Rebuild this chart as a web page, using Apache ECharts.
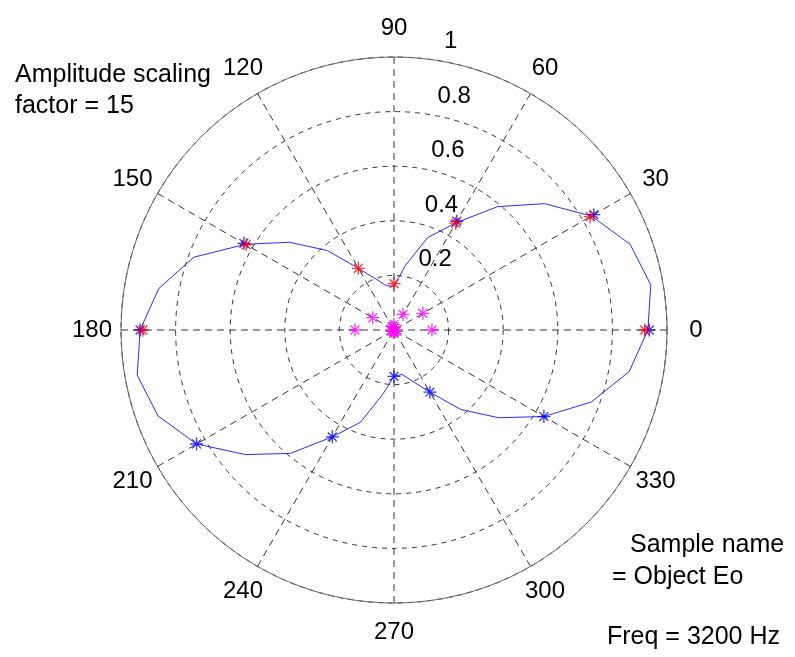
<!DOCTYPE html>
<html style="height: 100%">
<head>
<meta charset="utf-8">
<script type="text/javascript" src="https://cdn.jsdelivr.net/npm/echarts@6/dist/echarts.min.js"></script>
</head>
<body style="height: 100%; margin: 0; background: #fff">
<div id="container" style="width: 795px; height: 657px"></div>
<script type="text/javascript">
var dom = document.getElementById("container");
var myChart = echarts.init(dom);

// probe angles (deg) and normalised amplitudes
var probeAngles = [0, 30, 60, 90, 120, 150, 180, 210, 240, 270, 300, 330];
var blueAngles = [0, 30, 60, 150, 180, 210, 240, 270, 300, 330];
var blueProbe = [0.935, 0.845, 0.46, 0.635, 0.93, 0.835, 0.452, 0.17, 0.263, 0.634];
var redAngles = [0, 30, 60, 90, 120, 150, 180];
var redProbe = [0.918, 0.83, 0.452, 0.17, 0.261, 0.625, 0.92];
var magentaProbe = [0.139, 0.122, 0.066, 0.02, 0.015, 0.09, 0.143, 0.01, 0.006, 0.005, 0.006, 0.01];

// the fitted pattern, every 10 deg
var curveAngles = [0, 10, 20, 30, 40, 50, 60, 70, 80, 90, 100, 110, 120, 130, 140, 150, 160, 170, 180,
    190, 200, 210, 220, 230, 240, 250, 260, 270, 280, 290, 300, 310, 320, 330, 340, 350, 360];
var curveR = [0.93, 0.955, 0.92, 0.835, 0.72, 0.59, 0.453, 0.36, 0.24, 0.16, 0.165, 0.2, 0.261, 0.38, 0.5, 0.628, 0.78, 0.875, 0.93,
    0.955, 0.92, 0.835, 0.71, 0.59, 0.452, 0.36, 0.24, 0.17, 0.165, 0.2, 0.263, 0.38, 0.5, 0.634, 0.77, 0.875, 0.93];

// tick labels
var angleTicks = [0, 30, 60, 90, 120, 150, 180, 210, 240, 270, 300, 330];
var radiusTicks = [0.2, 0.4, 0.6, 0.8, 1];

var zip = function(r, a) {
    var res = [];
    for (var i = 0; i < r.length; i++) {
        res.push([r[i], a[i]]);
    }
    return res;
};

var star = 'path://M0,5L10,5M5,0L5,10M1.6,1.6L8.4,8.4M1.6,8.4L8.4,1.6';
var font = 'Liberation Sans';
var noteFont = '25px "Liberation Sans"';

var starSeries = function(name, data, color, z) {
    return {
        name: name,
        type: 'scatter',
        coordinateSystem: 'polar',
        polarIndex: 0,
        data: data,
        symbol: star,
        symbolSize: 13,
        itemStyle: {
            color: 'rgba(0,0,0,0)',
            borderColor: color,
            borderWidth: 1.3
        },
        z: z
    };
};

var hiddenAngle = function(idx, start) {
    return {
        polarIndex: idx,
        type: 'value',
        min: 0,
        max: 360,
        startAngle: start,
        clockwise: false,
        axisLine: { show: false },
        axisTick: { show: false },
        axisLabel: { show: false },
        splitLine: { show: false }
    };
};

// matlab centres the angle labels on a ring just outside the plot (polar 2)
var angleLabelData = angleTicks.map(function(a) { return [1, a]; });

option = {
    backgroundColor: '#fff',
    animation: false,
    polar: [
        { center: [394, 330], radius: 273 },
        { center: [394, 330], radius: 292 },
        { center: [394, 330], radius: 302 }
    ],
    angleAxis: [{
        polarIndex: 0,
        type: 'value',
        min: 0,
        max: 360,
        interval: 30,
        startAngle: 0,
        clockwise: false,
        axisLine: { show: true, lineStyle: { color: '#666', width: 1 } },
        axisTick: { show: false },
        axisLabel: { show: false },
        splitLine: { show: true, lineStyle: { color: '#333', type: [7, 5], width: 1 } }
    }, hiddenAngle(1, 83.3), hiddenAngle(2, 0)],
    radiusAxis: [{
        polarIndex: 0,
        type: 'value',
        min: 0,
        max: 1,
        interval: 0.2,
        axisLine: { show: false },
        axisTick: { show: false },
        axisLabel: { show: false },
        splitLine: { show: true, lineStyle: { color: '#333', type: [5, 5], width: 1 } }
    }, {
        polarIndex: 1,
        type: 'value',
        min: -0.0657,
        max: 1,
        axisLine: { show: false },
        axisTick: { show: false },
        splitLine: { show: false },
        axisLabel: {
            show: true,
            customValues: radiusTicks,
            margin: -16,
            align: 'left',
            color: '#000',
            fontSize: 24,
            fontFamily: font
        }
    }, {
        polarIndex: 2,
        type: 'value',
        min: 0,
        max: 1,
        axisLine: { show: false },
        axisTick: { show: false },
        axisLabel: { show: false },
        splitLine: { show: false }
    }],
    graphic: [
        { type: 'text', left: 15, top: 63, style: { text: 'Amplitude scaling', font: noteFont, fill: '#000' } },
        { type: 'text', left: 15, top: 94, style: { text: 'factor = 15', font: noteFont, fill: '#000' } },
        { type: 'text', left: 630, top: 533, style: { text: 'Sample name', font: noteFont, fill: '#000' } },
        { type: 'text', left: 612, top: 565, style: { text: '= Object Eo', font: noteFont, fill: '#000' } },
        { type: 'text', left: 607, top: 625, style: { text: 'Freq = 3200 Hz', font: noteFont, fill: '#000' } }
    ],
    series: [{
        name: 'pattern',
        type: 'line',
        coordinateSystem: 'polar',
        polarIndex: 0,
        data: zip(curveR, curveAngles),
        showSymbol: false,
        smooth: false,
        lineStyle: { color: '#2b2bff', width: 1 },
        z: 3
    },
    starSeries('probe', zip(blueProbe, blueAngles), '#0000ff', 5),
    starSeries('reference', zip(redProbe, redAngles), '#ff0000', 6),
    starSeries('residual', zip(magentaProbe, probeAngles), '#ff00ff', 7),
    {
        name: 'angle labels',
        type: 'scatter',
        coordinateSystem: 'polar',
        polarIndex: 2,
        data: angleLabelData,
        symbolSize: 1,
        itemStyle: { color: '#fff', opacity: 1 },
        silent: true,
        label: {
            show: true,
            position: 'inside',
            color: '#000',
            opacity: 1,
            textBorderWidth: 0,
            textBorderColor: 'transparent',
            fontSize: 24,
            fontFamily: font,
            formatter: function(p) { return String(p.value[1]); }
        },
        z: 8
    }
    ]
};
if (option && typeof option === "object") {
    myChart.setOption(option, true);
}
</script>
</body>
</html>
